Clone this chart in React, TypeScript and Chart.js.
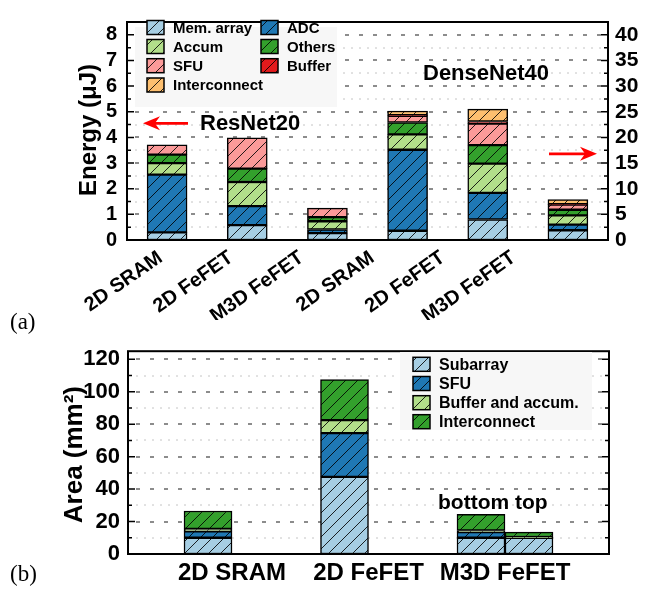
import React, { useEffect, useRef } from 'react';
import { Chart, registerables } from 'chart.js';

Chart.register(...registerables);

const FONT = "'Liberation Sans', Arial, Helvetica, sans-serif";

// ---------- (a) Energy chart data ----------
const energyCategories = ['2D SRAM', '2D FeFET', 'M3D FeFET', '2D SRAM', '2D FeFET', 'M3D FeFET'];
const energyComponents = ['Mem. array', 'ADC', 'Accum', 'Others', 'SFU', 'Buffer', 'Interconnect'];
const energyColors = ['#a6cee3', '#1f78b4', '#b2df8a', '#33a02c', '#fb9a99', '#e31a1c', '#fdbf6f'];
// ResNet20 (left axis, μJ): 2D SRAM, 2D FeFET, M3D FeFET
const resnetMemArray = [0.3, 0.58, 0.27];
const resnetADC = [2.25, 0.74, 0.14];
const resnetAccum = [0.45, 0.94, 0.32];
const resnetOthers = [0.33, 0.52, 0.16];
const resnetSFU = [0.38, 1.2, 0.35];
const resnetBuffer = [0, 0, 0];
const resnetInterconnect = [0, 0, 0];
// DenseNet40 (right axis, μJ): 2D SRAM, 2D FeFET, M3D FeFET
const densenetMemArray = [1.8, 4.0, 1.9];
const densenetADC = [15.8, 5.2, 1.1];
const densenetAccum = [3.0, 5.7, 1.8];
const densenetOthers = [2.3, 3.6, 1.1];
const densenetSFU = [1.3, 4.2, 1.0];
const densenetBuffer = [0.15, 0.4, 0.1];
const densenetInterconnect = [0.8, 2.4, 0.9];
const leftTicks = [0, 1, 2, 3, 4, 5, 6, 7, 8];
const rightTicks = [0, 5, 10, 15, 20, 25, 30, 35, 40];

// ---------- (b) Area chart data ----------
const areaCategories = ['2D SRAM', '2D FeFET', 'M3D FeFET'];
const areaComponents = ['Subarray', 'SFU', 'Buffer and accum.', 'Interconnect'];
const areaColors = ['#a6cee3', '#1f78b4', '#b2df8a', '#33a02c'];
// "bottom" tier (2D designs occupy this slot)
const bottomSubarray = [10, 47.5, 10];
const bottomSFU = [4, 27, 3.5];
const bottomBuffer = [1.5, 8, 1];
const bottomInterconnect = [11, 25, 10];
// "top" tier (M3D FeFET only)
const topSubarray = [10];
const topSFU = [0];
const topBuffer = [0.5];
const topInterconnect = [3];
const areaTicks = [0, 20, 40, 60, 80, 100, 120];

function makeHatch(color: string): CanvasPattern | string {
  const size = 12;
  const c = document.createElement('canvas');
  c.width = size;
  c.height = size;
  const g = c.getContext('2d');
  if (!g) return color;
  g.fillStyle = color;
  g.fillRect(0, 0, size, size);
  g.strokeStyle = 'rgba(0,0,0,0.85)';
  g.lineWidth = 1;
  g.beginPath();
  g.moveTo(0, size);
  g.lineTo(size, 0);
  g.moveTo(-size / 2, size / 2);
  g.lineTo(size / 2, -size / 2);
  g.moveTo(size / 2, size * 1.5);
  g.lineTo(size * 1.5, size / 2);
  g.stroke();
  return g.createPattern(c, 'repeat') || color;
}

function drawGrid(chart: any, scaleId: string, majorStep: number, minorStep: number, max: number) {
  const { ctx, chartArea: a } = chart;
  const s = chart.scales[scaleId];
  ctx.save();
  const ratio = Math.round(majorStep / minorStep);
  for (let k = 1; k * minorStep < max; k++) {
    const y = Math.round(s.getPixelForValue(k * minorStep));
    const major = k % ratio === 0;
    ctx.setLineDash(major ? [4, 10] : [2, 6]);
    ctx.strokeStyle = major ? '#8c8c8c' : '#c4c4c4';
    ctx.lineWidth = major ? 2 : 1;
    ctx.beginPath();
    ctx.moveTo(a.left + 8, y);
    ctx.lineTo(a.right, y);
    ctx.stroke();
  }
  ctx.restore();
}

function drawFrame(chart: any, scaleId: string, majorStep: number, minorStep: number, max: number) {
  const { ctx, chartArea: a } = chart;
  const s = chart.scales[scaleId];
  ctx.save();
  ctx.setLineDash([]);
  ctx.strokeStyle = '#000';
  ctx.lineWidth = 1.5;
  const ratio = Math.round(majorStep / minorStep);
  for (let k = 1; k * minorStep < max; k++) {
    const y = s.getPixelForValue(k * minorStep);
    const len = k % ratio === 0 ? 7 : 4;
    ctx.beginPath();
    ctx.moveTo(a.left, y);
    ctx.lineTo(a.left + len, y);
    ctx.moveTo(a.right, y);
    ctx.lineTo(a.right - len, y);
    ctx.stroke();
  }
  ctx.lineWidth = 2;
  ctx.strokeRect(a.left, a.top, a.right - a.left, a.bottom - a.top);
  ctx.restore();
}

function drawLegend(
  ctx: CanvasRenderingContext2D,
  box: { x: number; y: number; w: number; h: number },
  columns: { x: number; items: number[] }[],
  rowY: number[],
  fontSize: number,
  labels: string[],
  fills: (CanvasPattern | string)[]
) {
  ctx.save();
  ctx.fillStyle = 'rgba(247,247,247,1)';
  ctx.fillRect(box.x, box.y, box.w, box.h);
  ctx.font = `bold ${fontSize}px ${FONT}`;
  ctx.textBaseline = 'middle';
  ctx.textAlign = 'left';
  columns.forEach((col) => {
    col.items.forEach((idx, r) => {
      const cy = rowY[r];
      ctx.fillStyle = fills[idx] as any;
      ctx.fillRect(col.x, cy - 7, 17, 14);
      ctx.strokeStyle = '#000';
      ctx.lineWidth = 1.5;
      ctx.strokeRect(col.x, cy - 7, 17, 14);
      ctx.fillStyle = '#000';
      ctx.fillText(labels[idx], col.x + 26, cy + 1);
    });
  });
  ctx.restore();
}

function drawArrow(ctx: CanvasRenderingContext2D, x1: number, y: number, x2: number) {
  const dir = Math.sign(x2 - x1);
  const headLen = 17;
  const half = 7;
  ctx.save();
  ctx.strokeStyle = '#ff0000';
  ctx.fillStyle = '#ff0000';
  ctx.lineWidth = 2.8;
  ctx.beginPath();
  ctx.moveTo(x1, y);
  ctx.lineTo(x2 - dir * headLen * 0.6, y);
  ctx.stroke();
  ctx.beginPath();
  ctx.moveTo(x2, y);
  ctx.lineTo(x2 - dir * headLen, y - half);
  ctx.lineTo(x2 - dir * headLen * 0.7, y);
  ctx.lineTo(x2 - dir * headLen, y + half);
  ctx.closePath();
  ctx.fill();
  ctx.restore();
}

function verticalTitle(ctx: CanvasRenderingContext2D, text: string, x: number, y: number, size: number) {
  ctx.save();
  ctx.translate(x, y);
  ctx.rotate(-Math.PI / 2);
  ctx.font = `bold ${size}px ${FONT}`;
  ctx.fillStyle = '#000';
  ctx.textAlign = 'center';
  ctx.textBaseline = 'middle';
  ctx.fillText(text, 0, 0);
  ctx.restore();
}

export default function App() {
  const topRef = useRef<HTMLCanvasElement>(null);
  const botRef = useRef<HTMLCanvasElement>(null);

  useEffect(() => {
    if (!topRef.current || !botRef.current) return;
    const energyFills = energyColors.map(makeHatch);
    const areaFills = areaColors.map(makeHatch);

    const resnet = [resnetMemArray, resnetADC, resnetAccum, resnetOthers, resnetSFU, resnetBuffer, resnetInterconnect];
    const densenet = [densenetMemArray, densenetADC, densenetAccum, densenetOthers, densenetSFU, densenetBuffer, densenetInterconnect];
    const common = { stack: 's', borderColor: '#000', borderWidth: 1.5, borderSkipped: false, barThickness: 40, xAxisID: 'x' };
    const energyDatasets: any[] = [];
    energyComponents.forEach((name, i) => {
      energyDatasets.push({ ...common, label: `ResNet20 ${name}`, data: [...resnet[i], null, null, null], backgroundColor: energyFills[i], yAxisID: 'y' });
    });
    energyComponents.forEach((name, i) => {
      energyDatasets.push({ ...common, label: `DenseNet40 ${name}`, data: [null, null, null, ...densenet[i]], backgroundColor: energyFills[i], yAxisID: 'y1' });
    });

    const tickFont = { family: FONT, size: 20, weight: 'bold' as const };

    const topPlugin = {
      id: 'topDecor',
      beforeDatasetsDraw(chart: any) {
        drawGrid(chart, 'y', 1, 0.5, 8.5);
      },
      afterDraw(chart: any) {
        const { ctx, chartArea: a } = chart;
        drawFrame(chart, 'y', 1, 0.5, 8.5);
        drawLegend(
          ctx,
          { x: a.left + 8, y: a.top + 5, w: 202, h: 80 },
          [
            { x: a.left + 20, items: [0, 2, 4, 6] },
            { x: a.left + 134, items: [1, 3, 5] },
          ],
          [27.5, 46.5, 65.7, 85],
          15,
          energyComponents,
          energyFills
        );
        const ys = chart.scales.y;
        const y1s = chart.scales.y1;
        const ay = ys.getPixelForValue(4.55);
        drawArrow(ctx, a.left + 61, ay, a.left + 16);
        ctx.save();
        ctx.font = `bold 22px ${FONT}`;
        ctx.fillStyle = '#000';
        ctx.textBaseline = 'middle';
        ctx.fillText('ResNet20', a.left + 73, ay + 1);
        ctx.fillText('DenseNet40', a.left + 296, y1s.getPixelForValue(32.4));
        ctx.restore();
        drawArrow(ctx, a.right - 59, y1s.getPixelForValue(16.8), a.right - 11);
        verticalTitle(ctx, 'Energy (μJ)', 89, 130, 24);
      },
    };

    const topChart = new Chart(topRef.current, {
      type: 'bar',
      data: { labels: energyCategories, datasets: energyDatasets },
      options: {
        animation: false,
        responsive: false,
        maintainAspectRatio: false,
        layout: { padding: { top: 10, left: 0, right: 0, bottom: 0 } },
        plugins: { legend: { display: false }, tooltip: { enabled: false } },
        scales: {
          x: {
            type: 'category',
            display: false,
          },
          // label axis: the printed category labels sit on a slightly tighter pitch than the bars
          xl: {
            type: 'linear',
            position: 'bottom',
            offset: false,
            min: -0.4745,
            max: 6.339,
            afterBuildTicks: (s: any) => { s.ticks = energyCategories.map((_, i) => ({ value: i })); },
            grid: { display: false, drawTicks: false },
            border: { display: false },
            ticks: {
              font: tickFont,
              color: '#000',
              minRotation: 35,
              maxRotation: 35,
              padding: 6,
              autoSkip: false,
              callback: (v: any) => energyCategories[Math.round(Number(v))] ?? '',
            },
            afterFit: (s: any) => { s.height = 80; },
          },
          y: {
            position: 'left',
            stacked: true,
            min: 0,
            max: 8.5,
            afterBuildTicks: (s: any) => { s.ticks = leftTicks.map((v) => ({ value: v })); },
            ticks: { font: tickFont, color: '#000', padding: 10, autoSkip: false },
            grid: { display: false, drawTicks: false },
            border: { display: false },
            afterFit: (s: any) => { s.width = 127; },
          },
          y1: {
            position: 'right',
            stacked: true,
            min: 0,
            max: 42.5,
            afterBuildTicks: (s: any) => { s.ticks = rightTicks.map((v) => ({ value: v })); },
            ticks: { font: { family: FONT, size: 21, weight: 'bold' }, color: '#000', padding: 7, autoSkip: false },
            grid: { display: false, drawTicks: false },
            border: { display: false },
            afterFit: (s: any) => { s.width = 42; },
          },
        },
      } as any,
      plugins: [topPlugin],
    });

    // ---------- bottom chart ----------
    const bCommon = { borderColor: '#000', borderWidth: 1.5, borderSkipped: false, barThickness: 48 };
    const bottomSeries = [bottomSubarray, bottomSFU, bottomBuffer, bottomInterconnect];
    const topSeries = [topSubarray, topSFU, topBuffer, topInterconnect];
    const areaDatasets: any[] = [];
    areaComponents.forEach((name, i) => {
      areaDatasets.push({ ...bCommon, label: name, stack: 'bottom', backgroundColor: areaFills[i], data: bottomSeries[i].map((v, j) => ({ x: j, y: v })) });
    });
    areaComponents.forEach((name, i) => {
      areaDatasets.push({ ...bCommon, label: `${name} (top)`, stack: 'top', backgroundColor: areaFills[i], data: topSeries[i].map((v) => ({ x: 2, y: v })) });
    });

    const botPlugin = {
      id: 'botDecor',
      beforeDatasetsDraw(chart: any) {
        drawGrid(chart, 'y', 20, 10, 125);
      },
      afterDraw(chart: any) {
        const { ctx, chartArea: a } = chart;
        drawFrame(chart, 'y', 20, 10, 125);
        drawLegend(
          ctx,
          { x: 400, y: 22, w: 192, h: 78 },
          [{ x: 413, items: [0, 1, 2, 3] }],
          [34.3, 53.5, 72.7, 91.7],
          16,
          areaComponents,
          areaFills
        );
        const xs = chart.scales.x;
        const ys = chart.scales.y;
        ctx.save();
        ctx.font = `bold 21px ${FONT}`;
        ctx.fillStyle = '#000';
        ctx.textBaseline = 'alphabetic';
        ctx.fillText('bottom top', xs.getPixelForValue(2) - 67, ys.getPixelForValue(28));
        ctx.restore();
        verticalTitle(ctx, 'Area (mm²)', 75, (a.top + a.bottom) / 2 + 2, 26);
      },
    };

    const botChart = new Chart(botRef.current, {
      type: 'bar',
      data: { datasets: areaDatasets },
      options: {
        animation: false,
        responsive: false,
        maintainAspectRatio: false,
        layout: { padding: { top: 11, left: 0, right: 41, bottom: 0 } },
        plugins: { legend: { display: false }, tooltip: { enabled: false } },
        scales: {
          x: {
            type: 'linear',
            offset: false,
            min: -0.762,
            max: 2.762,
            afterBuildTicks: (s: any) => { s.ticks = areaCategories.map((_, i) => ({ value: i })); },
            ticks: {
              font: { family: FONT, size: 24, weight: 'bold' },
              color: '#000',
              padding: 5,
              autoSkip: false,
              maxRotation: 0,
              callback: (v: any) => areaCategories[Math.round(Number(v))] ?? '',
            },
            grid: { display: false, drawTicks: false },
            border: { display: false },
            afterFit: (s: any) => { s.height = 35; },
          },
          y: {
            stacked: true,
            min: 0,
            max: 125,
            afterBuildTicks: (s: any) => { s.ticks = areaTicks.map((v) => ({ value: v })); },
            ticks: { font: { family: FONT, size: 22, weight: 'bold' }, color: '#000', padding: 8, autoSkip: false },
            grid: { display: false, drawTicks: false },
            border: { display: false },
            afterFit: (s: any) => { s.width = 128; },
          },
        },
      } as any,
      plugins: [botPlugin],
    });

    return () => {
      topChart.destroy();
      botChart.destroy();
    };
  }, []);

  const labelStyle: React.CSSProperties = {
    position: 'absolute',
    left: 10,
    fontFamily: "'Liberation Serif', 'Times New Roman', serif",
    fontSize: 23,
    color: '#000',
  };

  return (
    <div style={{ position: 'absolute', left: 0, top: 0, width: 650, height: 589, background: '#fff', overflow: 'hidden' }}>
      <canvas ref={topRef} width={650} height={320} style={{ position: 'absolute', left: 0, top: 0, width: 650, height: 320 }} />
      <canvas ref={botRef} width={650} height={259} style={{ position: 'absolute', left: 0, top: 330, width: 650, height: 259 }} />
      <div style={{ ...labelStyle, top: 309 }}>(a)</div>
      <div style={{ ...labelStyle, top: 561 }}>(b)</div>
    </div>
  );
}
